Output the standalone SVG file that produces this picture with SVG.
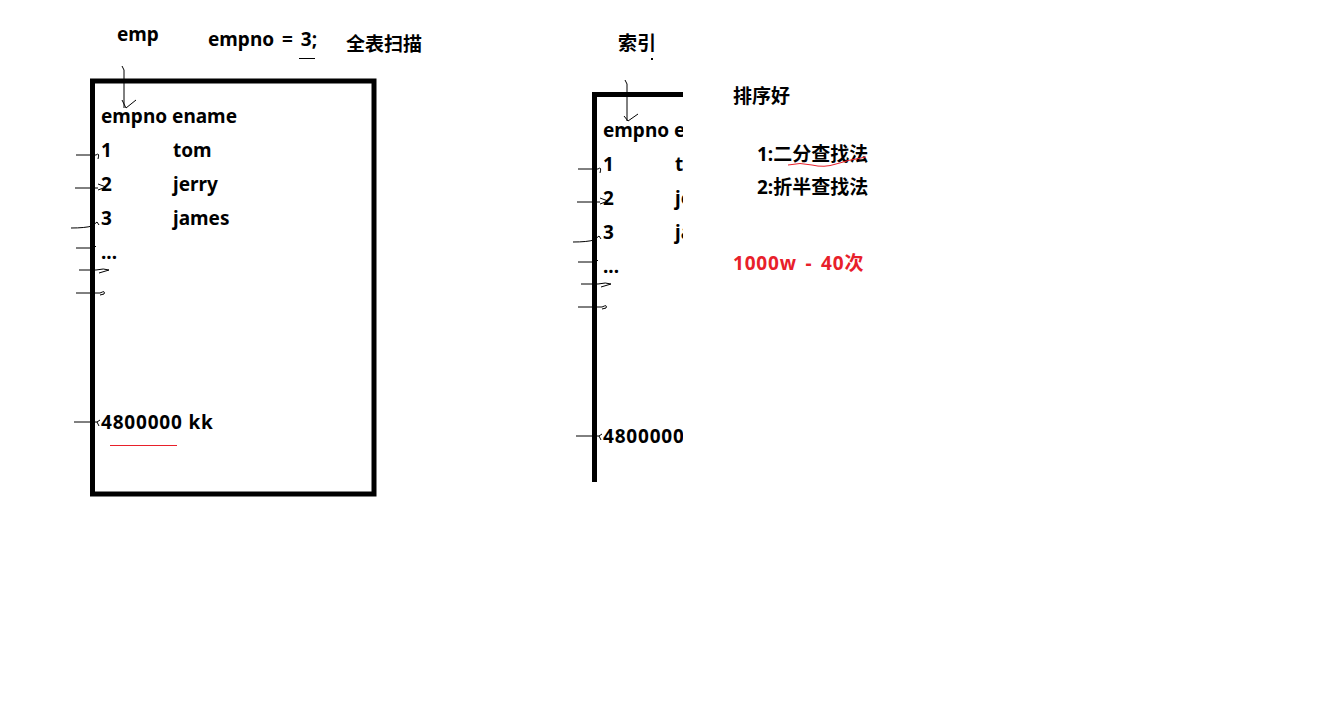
<svg xmlns="http://www.w3.org/2000/svg" width="1339" height="709" viewBox="0 0 1339 709">
<style>
.t{font-family:"Noto Sans","Noto Sans CJK SC",sans-serif;font-weight:bold;font-size:19px;fill:#000}
.r{fill:#e8202a}
.w{word-spacing:3px}
.d{letter-spacing:0.8px}
.h{fill:none;stroke:#000;stroke-width:1}
.box{fill:none;stroke:#000;stroke-width:5}
</style>
<defs>
<clipPath id="clipR"><rect x="560" y="0" width="123" height="709"/></clipPath>
</defs>
<rect width="1339" height="709" fill="#fff"/>
<g id="titles">
<text class="t" x="117" y="41">emp</text>
<text class="t w" x="208" y="46">empno = 3;</text>
<line x1="299" y1="58.5" x2="315" y2="58.5" stroke="#000" stroke-width="1"/>
<text class="t" x="346" y="51">全表扫描</text>
<text class="t" x="618" y="50">索引</text>
<rect x="651" y="58" width="2" height="2" fill="#000"/>
</g>
<g id="table-emp">
<rect class="box" x="92.5" y="81" width="281.5" height="413"/>
<text class="t" x="101" y="123">empno ename</text>
<text class="t" x="101" y="157">1</text><text class="t" x="173" y="157">tom</text>
<text class="t" x="101" y="191">2</text><text class="t" x="173" y="191">jerry</text>
<text class="t" x="101" y="225">3</text><text class="t" x="173" y="225">james</text>
<text class="t" x="101" y="259">...</text>
<text class="t d" x="101" y="429">4800000 kk</text>
<line x1="110" y1="445.5" x2="177" y2="445.5" stroke="#e8202a" stroke-width="1"/>
</g>
<g id="table-index">
<path class="box" d="M594.5 482 V94.5 H683"/>
<g clip-path="url(#clipR)">
<text class="t" x="603" y="137">empno ename</text>
<text class="t" x="603" y="171">1</text><text class="t" x="675" y="171">tom</text>
<text class="t" x="603" y="205">2</text><text class="t" x="675" y="205">jerry</text>
<text class="t" x="603" y="239">3</text><text class="t" x="675" y="239">james</text>
<text class="t" x="603" y="273">...</text>
<text class="t d" x="603" y="443">4800000 kk</text>
</g>
</g>
<g id="notes">
<text class="t" x="733" y="103">排序好</text>
<text class="t" x="757" y="161">1:二分查找法</text>
<path d="M788 165 Q800 162 812 165 T836 164 T866 157" fill="none" stroke="#e8202a" stroke-width="1"/>
<text class="t" x="757" y="194">2:折半查找法</text>
<text class="t r w d" x="733" y="270">1000w - 40次</text>
</g>
<g id="connectors">
<path class="h" d="M122 66 L124 70 L124 108 M122 100 L126 108 L136 100"/>
<path class="h" d="M76 155 H96 Q100 152 98 159"/>
<path class="h" d="M75 188 H98 M98 184 L106 187 L98 190"/>
<path class="h" d="M71 228 Q85 228 92 226 L97 222 L99 225"/>
<path class="h" d="M76 248 H94 L96 246"/>
<path class="h" d="M79 270 H96 Q104 268 109 270 L99 273"/>
<path class="h" d="M76 293 H100 Q106 290 104 294 L100 295"/>
<path class="h" d="M74 422 H97 L100 420 M97 422 L99 426"/>
<g transform="translate(502,14)">
<path class="h" d="M76 155 H96 Q100 152 98 159"/>
<path class="h" d="M75 188 H98 M98 184 L106 187 L98 190"/>
<path class="h" d="M71 228 Q85 228 92 226 L97 222 L99 225"/>
<path class="h" d="M76 248 H94 L96 246"/>
<path class="h" d="M79 270 H96 Q104 268 109 270 L99 273"/>
<path class="h" d="M76 293 H100 Q106 290 104 294 L100 295"/>
<path class="h" d="M74 422 H97 L100 420 M97 422 L99 426"/>
</g>
<path class="h" d="M625 80 L627 84 L627 121 M624 116 L628 121 L638 114"/>
</g>
</svg>
